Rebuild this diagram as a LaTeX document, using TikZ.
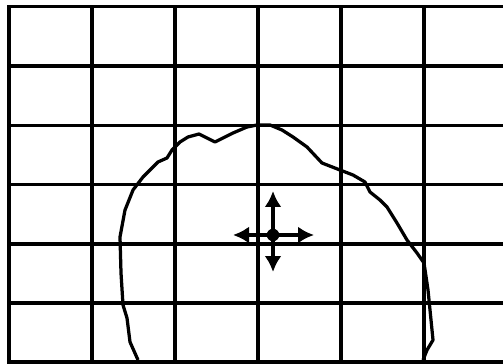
\documentclass[tikz,border=0pt]{standalone}
\usetikzlibrary{arrows.meta}

\begin{document}
\begin{tikzpicture}[x=0.02cm, y=-0.02cm,
  gridline/.style={line width=0.078cm, line cap=rect},
  outline/.style={line width=0.065cm, line join=round},
  dot/.style={circle, fill=black, inner sep=0pt, minimum size=0.25cm},
  arr/.style={line width=0.075cm, -{Latex[length=0.32cm, width=0.34cm]}}]
\useasboundingbox (0,0) rectangle (503,364);
%%%%%%%%%%%%%%%%%%%
\draw[gridline] (9,6.5) -- (9,362);
\draw[gridline] (92,6.5) -- (92,362);
\draw[gridline] (175,6.5) -- (175,362);
\draw[gridline] (258,6.5) -- (258,362);
\draw[gridline] (341,6.5) -- (341,362);
\draw[gridline] (424,6.5) -- (424,362);
\draw[gridline] (9,6.5) -- (510,6.5);
\draw[gridline] (9,66) -- (510,66);
\draw[gridline] (9,125.5) -- (510,125.5);
\draw[gridline] (9,184.5) -- (510,184.5);
\draw[gridline] (9,244) -- (510,244);
\draw[gridline] (9,303) -- (510,303);
\draw[gridline] (9,362) -- (510,362);

%%%%%%%%%%%%%%%%%%%
\draw[outline] (138,360) -- (130,342) -- (127,318) -- (123,305) -- (121,273)
  -- (120,237) -- (125,210) -- (133,190) -- (143,177) -- (153,167)
  -- (158,162) -- (167,158) -- (172,150) -- (180,142) -- (188,137)
  -- (199,134) -- (215,142) -- (233,133) -- (247,127) -- (257,125)
  -- (270,125) -- (282,130) -- (293,137) -- (307,147) -- (322,163)
  -- (340,170) -- (353,175) -- (365,182) -- (370,192) -- (380,200)
  -- (387,207) -- (397,223) -- (407,240) -- (417,253) -- (424,263)
  -- (428,290) -- (433,340) -- (427,350) -- (423,360);

%%%%%%%%%%%%%%%%%%%
\node[dot] (ctr) at (273,235) {};
\coordinate (up) at (273,191);
\coordinate (down) at (273,272);
\coordinate (left) at (233,235);
\coordinate (right) at (314,235);
\draw[arr] (ctr.center) -- (up);
\draw[arr] (ctr.center) -- (down);
\draw[arr] (ctr.center) -- (left);
\draw[arr] (ctr.center) -- (right);
\end{tikzpicture}
\end{document}
